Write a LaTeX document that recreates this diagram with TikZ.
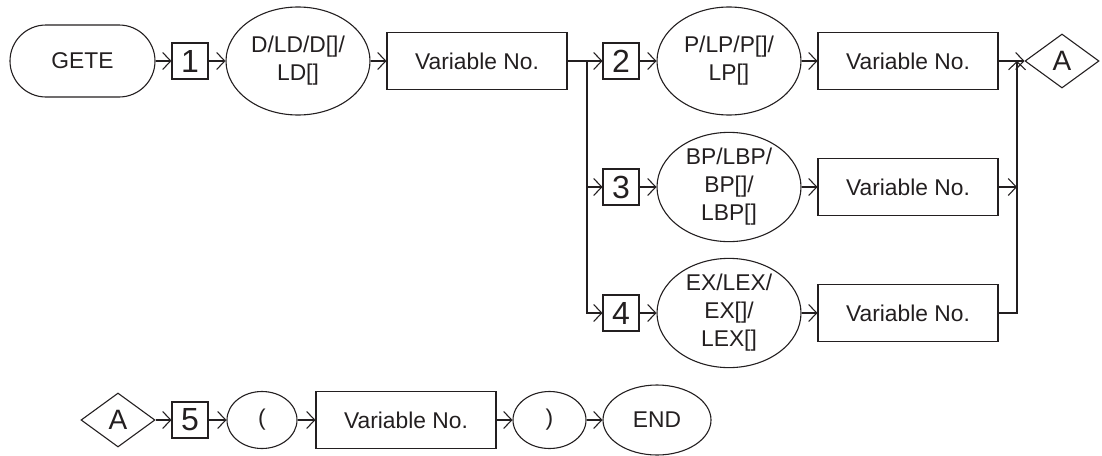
\documentclass[tikz,border=0pt]{standalone}
\usepackage{fontspec}
\setmainfont{Liberation Sans}
\usepackage{tikz}
\usetikzlibrary{
  arrows.meta,
  shapes.geometric
}
\definecolor{ink}{HTML}{231F20}
\tikzset{
  base/.style={
    draw=ink,
    text=ink,
    line width=0.55pt,
    inner sep=0pt,
    align=center,
    font=\fontsize{11.4}{14}\selectfont
  },
  startbox/.style={
    base,
    rectangle,
    rounded corners=18pt,
    minimum width=72.5pt,
    minimum height=36pt
  },
  numbox/.style={
    base,
    rectangle,
    minimum width=18pt,
    minimum height=18pt,
    font=\fontsize{16}{16}\selectfont
  },
  oval/.style={
    base,
    ellipse,
    minimum width=72pt,
    minimum height=54pt
  },
  varbox/.style={
    base,
    rectangle,
    minimum width=90pt,
    minimum height=28.5pt
  },
  jump/.style={
    base,
    diamond,
    minimum width=37pt,
    minimum height=27pt,
    font=\fontsize{14}{14}\selectfont
  },
  arrow/.style={
    -{Straight Barb[length=4pt,width=8.5pt]},
    line width=0.55pt,
    draw=ink
  },
  line/.style={
    line width=0.55pt,
    draw=ink
  }
}

\begin{document}
\begin{tikzpicture}[x=0.5pt,y=-0.5pt]
\useasboundingbox (0,0) rectangle (1102,455);

% first row
\node[startbox] (gete) at (82.5,61) {GETE};
\node[numbox] (n1) at (190,61) {1};
\node[oval] (dev1) at (298,61) {D/LD/D[]/\\LD[]};
\node[varbox] (var1) at (477,61) {Variable No.};
\coordinate (split) at (587,61);
\node[numbox] (n2) at (621,61) {2};
\node[oval] (dev2) at (729,61) {P/LP/P[]/\\LP[]};
\node[varbox] (var2) at (908,61) {Variable No.};
\coordinate (merge) at (1017,61);
\node[jump] (a1) at (1062,61) {A};

% second row
\node[numbox] (n3) at (621,187) {3};
\node[oval] (dev3) at (729,187) {BP/LBP/\\BP[]/\\LBP[]};
\node[varbox] (var3) at (908,187) {Variable No.};

% third row
\node[numbox] (n4) at (621,313) {4};
\node[oval] (dev4) at (729,313) {EX/LEX/\\EX[]/\\LEX[]};
\node[varbox] (var4) at (908,313) {Variable No.};

% last row
\node[jump] (a2) at (118,420) {A};
\node[numbox] (n5) at (190,420) {5};
\node[oval,minimum width=35pt,minimum height=28.5pt] (lpar) at (262,420) {(};
\node[varbox] (var5) at (406,420) {Variable No.};
\node[oval,minimum width=36.5pt,minimum height=28.5pt] (rpar) at (549.5,420) {)};
\node[oval,minimum width=54pt,minimum height=35pt] (fin) at (657,420) {END};

% connectors
\draw[arrow] (gete) -- (n1);
\draw[arrow] (n1) -- (dev1);
\draw[arrow] (dev1) -- (var1);
\draw[line] (var1) -- (split);
\draw[arrow] (split) -- (n2);
\draw[arrow] (split) |- (n3);
\draw[arrow] (split) |- (n4);
\draw[arrow] (n2) -- (dev2);
\draw[arrow] (dev2) -- (var2);
\draw[arrow] (n3) -- (dev3);
\draw[arrow] (dev3) -- (var3);
\draw[arrow] (n4) -- (dev4);
\draw[arrow] (dev4) -- (var4);
\draw[line] (var2) -- (merge);
\draw[arrow] (merge) -- (a1);
\draw[arrow] (var3.east) -- (var3.east -| merge);
\draw[arrow] (var4.east) -| (merge);
\draw[arrow] (a2) -- (n5);
\draw[arrow] (n5) -- (lpar);
\draw[arrow] (lpar) -- (var5);
\draw[arrow] (var5) -- (rpar);
\draw[arrow] (rpar) -- (fin);
\end{tikzpicture}
\end{document}
